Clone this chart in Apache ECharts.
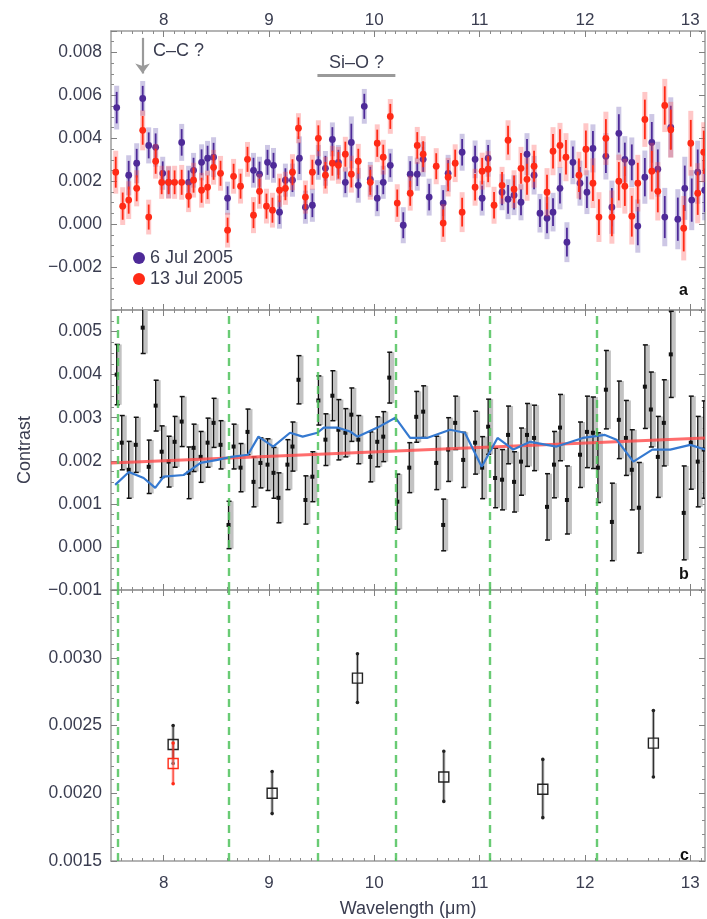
<!DOCTYPE html>
<html>
<head>
<meta charset="utf-8">
<script src="https://cdn.jsdelivr.net/npm/echarts@6.0.0/dist/echarts.min.js"></script>
<style>
  html, body { margin: 0; padding: 0; background: #fff; }
  #chart { width: 707px; height: 919px; }
</style>
</head>
<body>
<div id="chart"></div>
<script>
// ---- panel a: two observing dates ----
var wavA6 = [7.554, 7.668, 7.744, 7.801, 7.858, 7.924, 7.991, 8.047, 8.171, 8.237,
    8.284, 8.360, 8.417, 8.474, 8.607, 8.853, 8.910, 8.986, 9.043, 9.100,
    9.156, 9.223, 9.289, 9.346, 9.412, 9.469, 9.536, 9.602, 9.659, 9.725,
    9.782, 9.848, 9.905, 9.962, 10.028, 10.085, 10.152, 10.275, 10.341, 10.408,
    10.464, 10.521, 10.654, 10.701, 10.834, 10.957, 11.024, 11.081, 11.213, 11.270,
    11.327, 11.393, 11.450, 11.517, 11.573, 11.640, 11.697, 11.763, 11.829, 11.886,
    11.953, 12.019, 12.076, 12.199, 12.256, 12.322, 12.379, 12.445, 12.502, 12.569,
    12.635, 12.692, 12.758, 12.815, 12.882, 12.948, 13.014, 13.071, 13.137];
var conA6 = [0.00543, 0.00228, 0.00284, 0.00586, 0.00367, 0.00358, 0.00237, 0.00195, 0.00381, 0.00195,
    0.00251, 0.00288, 0.00307, 0.00312, 0.00121, 0.00251, 0.00233, 0.00288, 0.00274, 0.00056,
    0.00205, 0.00205, 0.00307, 0.00079, 0.00088, 0.00288, 0.00260, 0.00395, 0.00288, 0.00195,
    0.00381, 0.00181, 0.00549, 0.00209, 0.00121, 0.00195, 0.00274, -0.00005, 0.00233, 0.00233,
    0.00302, 0.00126, 0.00098, 0.00237, 0.00335, 0.00302, 0.00121, 0.00307, 0.00149, 0.00116,
    0.00135, 0.00102, 0.00326, 0.00228, 0.00051, 0.00028, 0.00056, 0.00167, -0.00084, 0.00288,
    0.00191, 0.00149, 0.00353, 0.00316, 0.00079, 0.00423, 0.00302, 0.00288, -0.00009, 0.00219,
    0.00381, 0.00256, 0.00033, 0.00451, 0.00023, 0.00167, 0.00112, 0.00242, 0.00158];
var errA6 = [0.00102, 0.00093, 0.00093, 0.00081, 0.00084, 0.00090, 0.00077, 0.00074, 0.00086, 0.00077,
    0.00081, 0.00084, 0.00081, 0.00093, 0.00077, 0.00081, 0.00081, 0.00081, 0.00081, 0.00077,
    0.00077, 0.00077, 0.00102, 0.00077, 0.00077, 0.00081, 0.00081, 0.00079, 0.00081, 0.00070,
    0.00121, 0.00081, 0.00081, 0.00081, 0.00084, 0.00077, 0.00077, 0.00084, 0.00084, 0.00077,
    0.00081, 0.00086, 0.00084, 0.00086, 0.00086, 0.00088, 0.00081, 0.00086, 0.00084, 0.00093,
    0.00093, 0.00084, 0.00098, 0.00090, 0.00090, 0.00098, 0.00090, 0.00098, 0.00093, 0.00102,
    0.00105, 0.00102, 0.00112, 0.00108, 0.00124, 0.00124, 0.00108, 0.00116, 0.00124, 0.00124,
    0.00132, 0.00128, 0.00136, 0.00140, 0.00140, 0.00147, 0.00140, 0.00147, 0.00140];

var wavA13 = [7.545, 7.611, 7.668, 7.744, 7.801, 7.858, 7.924, 7.981, 8.047, 8.104,
    8.171, 8.237, 8.284, 8.360, 8.417, 8.474, 8.540, 8.607, 8.664, 8.730,
    8.796, 8.853, 8.910, 8.976, 9.033, 9.100, 9.156, 9.223, 9.280, 9.346,
    9.412, 9.469, 9.536, 9.602, 9.659, 9.725, 9.782, 9.848, 9.962, 10.028,
    10.085, 10.152, 10.218, 10.341, 10.408, 10.464, 10.588, 10.654, 10.701, 10.768,
    10.834, 10.957, 11.024, 11.081, 11.137, 11.213, 11.270, 11.327, 11.393, 11.450,
    11.517, 11.640, 11.697, 11.763, 11.820, 11.943, 12.009, 12.076, 12.133, 12.199,
    12.256, 12.322, 12.379, 12.445, 12.502, 12.569, 12.635, 12.692, 12.758, 12.815,
    12.938, 13.005, 13.071, 13.128];
var conA13 = [0.00242, 0.00084, 0.00112, 0.00167, 0.00437, 0.00033, 0.00293, 0.00195, 0.00195, 0.00195,
    0.00195, 0.00130, 0.00205, 0.00158, 0.00172, 0.00265, 0.00237, -0.00028, 0.00223, 0.00177,
    0.00302, 0.00042, 0.00153, 0.00084, 0.00065, 0.00158, 0.00167, 0.00242, 0.00447, 0.00126,
    0.00242, 0.00400, 0.00228, 0.00284, 0.00274, 0.00326, 0.00233, 0.00293, 0.00195, 0.00377,
    0.00312, 0.00502, 0.00098, 0.00144, 0.00367, 0.00326, 0.00270, 0.00005, 0.00219, 0.00284,
    0.00056, 0.00172, 0.00247, 0.00256, 0.00088, 0.00181, 0.00391, 0.00163, 0.00260, 0.00209,
    0.00270, 0.00149, 0.00340, 0.00367, 0.00312, 0.00228, 0.00349, 0.00191, 0.00033, 0.00400,
    0.00033, 0.00200, 0.00177, 0.00037, 0.00191, 0.00488, 0.00247, 0.00153, 0.00553, 0.00440,
    -0.00019, 0.00377, 0.00144, 0.00335];
var errA13 = [0.00100, 0.00088, 0.00088, 0.00084, 0.00093, 0.00081, 0.00081, 0.00077, 0.00077, 0.00077,
    0.00081, 0.00074, 0.00081, 0.00081, 0.00077, 0.00081, 0.00081, 0.00081, 0.00081, 0.00081,
    0.00081, 0.00084, 0.00081, 0.00081, 0.00081, 0.00077, 0.00077, 0.00084, 0.00070, 0.00077,
    0.00081, 0.00084, 0.00086, 0.00081, 0.00086, 0.00081, 0.00086, 0.00081, 0.00081, 0.00088,
    0.00081, 0.00081, 0.00088, 0.00081, 0.00086, 0.00084, 0.00084, 0.00088, 0.00090, 0.00088,
    0.00093, 0.00086, 0.00086, 0.00084, 0.00086, 0.00086, 0.00093, 0.00088, 0.00100, 0.00100,
    0.00100, 0.00112, 0.00112, 0.00105, 0.00112, 0.00109, 0.00121, 0.00116, 0.00116, 0.00124,
    0.00124, 0.00124, 0.00128, 0.00132, 0.00132, 0.00128, 0.00132, 0.00136, 0.00124, 0.00130,
    0.00150, 0.00151, 0.00140, 0.00140];

// ---- panel b: combined spectrum ----
var wavB = [7.554, 7.602, 7.668, 7.735, 7.801, 7.858, 7.924, 7.981, 8.047, 8.104,
    8.171, 8.237, 8.284, 8.351, 8.417, 8.474, 8.540, 8.616, 8.664, 8.730,
    8.796, 8.853, 8.919, 8.986, 9.043, 9.090, 9.175, 9.223, 9.280, 9.346,
    9.412, 9.469, 9.536, 9.602, 9.659, 9.725, 9.782, 9.848, 9.962, 10.028,
    10.085, 10.142, 10.218, 10.332, 10.398, 10.464, 10.588, 10.654, 10.701, 10.768,
    10.844, 10.957, 11.024, 11.081, 11.147, 11.213, 11.270, 11.327, 11.393, 11.450,
    11.517, 11.640, 11.706, 11.763, 11.829, 11.953, 12.019, 12.076, 12.123, 12.199,
    12.256, 12.322, 12.389, 12.445, 12.512, 12.569, 12.626, 12.692, 12.749, 12.815,
    12.938, 13.005, 13.071, 13.128];
var conB = [0.00400, 0.00242, 0.00179, 0.00237, 0.00509, 0.00186, 0.00328, 0.00221, 0.00198, 0.00244,
    0.00291, 0.00172, 0.00230, 0.00209, 0.00242, 0.00288, 0.00237, 0.00051, 0.00233, 0.00184,
    0.00267, 0.00151, 0.00195, 0.00191, 0.00172, 0.00114, 0.00191, 0.00233, 0.00388, 0.00109,
    0.00163, 0.00340, 0.00249, 0.00351, 0.00272, 0.00265, 0.00307, 0.00249, 0.00209, 0.00244,
    0.00256, 0.00393, 0.00105, 0.00184, 0.00302, 0.00314, 0.00195, 0.00051, 0.00226, 0.00288,
    0.00202, 0.00242, 0.00184, 0.00279, 0.00160, 0.00156, 0.00260, 0.00151, 0.00198, 0.00260,
    0.00253, 0.00093, 0.00191, 0.00277, 0.00109, 0.00214, 0.00267, 0.00265, 0.00184, 0.00365,
    0.00058, 0.00295, 0.00253, 0.00179, 0.00091, 0.00372, 0.00319, 0.00209, 0.00288, 0.00447,
    0.00079, 0.00242, 0.00198, 0.00226];
var errB = [0.00070, 0.00063, 0.00066, 0.00064, 0.00060, 0.00062, 0.00059, 0.00060, 0.00059, 0.00059,
    0.00058, 0.00060, 0.00055, 0.00059, 0.00057, 0.00057, 0.00056, 0.00055, 0.00052, 0.00056,
    0.00053, 0.00058, 0.00058, 0.00060, 0.00059, 0.00058, 0.00058, 0.00057, 0.00056, 0.00056,
    0.00058, 0.00057, 0.00060, 0.00058, 0.00070, 0.00056, 0.00062, 0.00056, 0.00058, 0.00058,
    0.00058, 0.00059, 0.00064, 0.00058, 0.00059, 0.00060, 0.00062, 0.00060, 0.00074, 0.00062,
    0.00064, 0.00073, 0.00072, 0.00064, 0.00069, 0.00070, 0.00067, 0.00070, 0.00078, 0.00073,
    0.00076, 0.00077, 0.00077, 0.00077, 0.00079, 0.00076, 0.00083, 0.00083, 0.00081, 0.00091,
    0.00090, 0.00090, 0.00087, 0.00093, 0.00105, 0.00097, 0.00087, 0.00094, 0.00100, 0.00100,
    0.00109, 0.00108, 0.00105, 0.00113];

// linear fit (red) and smoothed model (blue)
var fitX = [7.5, 13.14];
var fitY = [0.00195, 0.00253];
var smoothX = [7.54, 7.67, 7.81, 7.92, 8.0, 8.19, 8.35, 8.51, 8.64, 8.8, 8.9, 9.04, 9.2, 9.32,
    9.46, 9.52, 9.65, 9.77, 9.84, 10.03, 10.2, 10.34, 10.5, 10.72, 10.86, 11.02, 11.17, 11.32,
    11.48, 11.73, 11.98, 12.19, 12.3, 12.46, 12.64, 12.81, 13.0, 13.14];
var smoothY = [0.00144, 0.00174, 0.00160, 0.00137, 0.00163, 0.00167, 0.00195, 0.00202, 0.00209,
    0.00214, 0.00256, 0.00233, 0.00265, 0.00256, 0.00265, 0.00277, 0.00277, 0.00268, 0.00256,
    0.00277, 0.00300, 0.00253, 0.00253, 0.00272, 0.00265, 0.00186, 0.00253, 0.00226, 0.00244,
    0.00233, 0.00253, 0.00260, 0.00249, 0.00198, 0.00226, 0.00226, 0.00237, 0.00226];

// ---- panel c: band averages ----
var wavC = [8.09, 9.03, 9.84, 10.66, 11.60, 12.65];
var conC = [0.00236, 0.00200, 0.00285, 0.00212, 0.00203, 0.00237];
var loC = [0.00222, 0.00185, 0.00267, 0.00194, 0.00182, 0.00212];
var hiC = [0.00250, 0.00216, 0.00303, 0.00231, 0.00225, 0.00261];
var wavCred = [8.09];
var conCred = [0.00222];
var loCred = [0.00207];
var hiCred = [0.00237];

var bandEdges = [7.56, 8.62, 9.46, 10.2, 11.1, 12.11];
var xMajor = [8, 9, 10, 11, 12, 13];

var FONT = '"Liberation Sans", Arial, sans-serif';
var TXT = '#3a3d50';
var PURPLE = '#4e2a98', PURPLE_PALE = 'rgba(100,80,175,0.32)';
var RED = '#ff2a16', RED_PALE = 'rgba(255,80,80,0.32)';

function zip3(a, b, c, d) {
    return a.map(function (v, i) { return d ? [v, b[i], c[i], d[i]] : [v, b[i], c[i]]; });
}

function fmt(dec) {
    return function (v) {
        var s = Math.abs(v).toFixed(dec);
        return (v < -1e-12 ? '\u2212' : '') + s;
    };
}

function xAx(grid, pos, labels, name) {
    return {
        type: 'value', gridIndex: grid, position: pos, min: 7.5, max: 13.14, interval: 0.5,
        name: name || '', nameLocation: 'middle', nameGap: 39,
        nameTextStyle: {fontFamily: FONT, fontSize: 18, color: TXT},
        axisLine: {show: true, onZero: false, lineStyle: {color: '#9c9c9c', width: 1.5}},
        axisTick: {show: true, inside: true, length: 6, customValues: xMajor, lineStyle: {color: '#808080'}},
        minorTick: {show: true, splitNumber: 5, length: 3, lineStyle: {color: '#8a8a8a'}},
        axisLabel: {show: labels, customValues: xMajor, margin: pos === 'top' ? 2 : 14,
            fontFamily: FONT, fontSize: 17, color: TXT},
        splitLine: {show: false}
    };
}

function yAx(grid, pos, min, max, interval, split, dec, labels, showMin, name) {
    return {
        type: 'value', gridIndex: grid, position: pos, min: min, max: max, interval: interval,
        name: name || '', nameLocation: 'middle', nameGap: 77, nameRotate: 90,
        nameTextStyle: {fontFamily: FONT, fontSize: 18, color: TXT},
        axisLine: {show: true, onZero: false, lineStyle: {color: '#9c9c9c', width: 1.5}},
        axisTick: {show: true, inside: true, length: 6, lineStyle: {color: '#808080'}},
        minorTick: {show: true, splitNumber: split, length: 3, lineStyle: {color: '#8a8a8a'}},
        axisLabel: {show: labels, margin: 9, showMinLabel: showMin, showMaxLabel: false,
            formatter: fmt(dec), fontFamily: FONT, fontSize: 17.5, color: TXT},
        splitLine: {show: false}
    };
}

// panel a: pale total error + darker core + dot
function dateBars(solid, pale) {
    return function (params, api) {
        var x = api.value(0), y = api.value(1), e = api.value(2);
        var c = api.coord([x, y]);
        var hi = api.coord([x, y + e]), lo = api.coord([x, y - e]);
        var hi2 = api.coord([x, y + e * 0.72]), lo2 = api.coord([x, y - e * 0.72]);
        return {
            type: 'group', children: [
                {type: 'rect', shape: {x: c[0] - 2.5, y: hi[1], width: 5, height: lo[1] - hi[1]}, style: {fill: pale}},
                {type: 'line', shape: {x1: c[0], y1: hi2[1], x2: c[0], y2: lo2[1]}, style: {stroke: solid, lineWidth: 1.8}},
                {type: 'circle', shape: {cx: c[0], cy: c[1], r: 3.4}, style: {fill: solid}}
            ]
        };
    };
}

// panel b: grey band, black bar with caps, small dot
function combBars(params, api) {
    var x = api.value(0), y = api.value(1), e = api.value(2);
    var c = api.coord([x, y]);
    var hi = api.coord([x, y + e]), lo = api.coord([x, y - e]);
    return {
        type: 'group', children: [
            {type: 'rect', shape: {x: c[0], y: hi[1], width: 5, height: lo[1] - hi[1]}, style: {fill: '#c2c2c2'}},
            {type: 'line', shape: {x1: c[0], y1: hi[1], x2: c[0], y2: lo[1]}, style: {stroke: '#111', lineWidth: 1.3}},
            {type: 'line', shape: {x1: c[0] - 2, y1: hi[1], x2: c[0] + 3, y2: hi[1]}, style: {stroke: '#111', lineWidth: 1.5}},
            {type: 'line', shape: {x1: c[0] - 2, y1: lo[1], x2: c[0] + 3, y2: lo[1]}, style: {stroke: '#111', lineWidth: 1.5}},
            {type: 'rect', shape: {x: c[0] - 2, y: c[1] - 2, width: 4, height: 4}, style: {fill: '#111'}}
        ]
    };
}

// panel c: hollow square with error bar
function bandBoxes(col, band) {
    return function (params, api) {
        var x = api.value(0), y = api.value(1);
        var c = api.coord([x, y]);
        var lo = api.coord([x, api.value(2)]), hi = api.coord([x, api.value(3)]);
        return {
            type: 'group', children: [
                {type: 'rect', shape: {x: c[0] - 1.5, y: hi[1], width: 3, height: lo[1] - hi[1]}, style: {fill: band}},
                {type: 'line', shape: {x1: c[0], y1: hi[1], x2: c[0], y2: lo[1]}, style: {stroke: col, lineWidth: 1}},
                {type: 'circle', shape: {cx: c[0], cy: hi[1], r: 1.8}, style: {fill: col}},
                {type: 'circle', shape: {cx: c[0], cy: lo[1], r: 1.8}, style: {fill: col}},
                {type: 'rect', shape: {x: c[0] - 5, y: c[1] - 5, width: 10, height: 10},
                    style: {fill: 'rgba(255,255,255,0.2)', stroke: col, lineWidth: 1.4}}
            ]
        };
    };
}

var greenLines = {
    silent: true, symbol: 'none', label: {show: false},
    lineStyle: {type: [8, 6], color: '#4fc25c', width: 2.4, opacity: 0.85},
    data: bandEdges.map(function (v) { return {xAxis: v}; })
};

var option = {
    animation: false,
    backgroundColor: '#fff',
    textStyle: {fontFamily: FONT},
    grid: [
        {left: 111, right: 2, top: 31, height: 279},
        {left: 111, right: 2, top: 310, height: 280},
        {left: 111, right: 2, top: 590, height: 279}
    ],
    xAxis: [
        xAx(0, 'bottom', false), xAx(0, 'top', true),
        xAx(1, 'bottom', false), xAx(1, 'top', false),
        xAx(2, 'bottom', true, 'Wavelength (\u03bcm)'), xAx(2, 'top', false)
    ],
    yAxis: [
        yAx(0, 'left', -0.004, 0.009, 0.002, 4, 3, true, false),
        yAx(0, 'right', -0.004, 0.009, 0.002, 4, 3, false, false),
        yAx(1, 'left', -0.001, 0.0055, 0.001, 4, 3, true, true, 'Contrast'),
        yAx(1, 'right', -0.001, 0.0055, 0.001, 4, 3, false, false),
        yAx(2, 'left', 0.0015, 0.0035, 0.0005, 5, 4, true, true),
        yAx(2, 'right', 0.0015, 0.0035, 0.0005, 5, 4, false, false)
    ],
    legend: {
        orient: 'vertical', left: 133, top: 249, itemGap: 3, itemWidth: 12, itemHeight: 12,
        icon: 'circle', padding: 0,
        textStyle: {fontFamily: FONT, fontSize: 18, color: TXT},
        data: ['6 Jul 2005', '13 Jul 2005']
    },
    series: [
        {
            type: 'custom', name: '6 Jul 2005', xAxisIndex: 0, yAxisIndex: 0, clip: true,
            itemStyle: {color: PURPLE}, encode: {x: 0, y: 1},
            renderItem: dateBars(PURPLE, PURPLE_PALE), data: zip3(wavA6, conA6, errA6)
        },
        {
            type: 'custom', name: '13 Jul 2005', xAxisIndex: 0, yAxisIndex: 0, clip: true,
            itemStyle: {color: RED}, encode: {x: 0, y: 1},
            renderItem: dateBars(RED, RED_PALE), data: zip3(wavA13, conA13, errA13)
        },
        {
            type: 'line', xAxisIndex: 0, yAxisIndex: 0, data: [], silent: true,
            markLine: {
                silent: true, animation: false,
                data: [
                    [{coord: [7.80, 0.00868], symbol: 'none'},
                     {coord: [7.80, 0.00702], symbol: 'arrow', symbolSize: [11, 10],
                      lineStyle: {color: '#9a9a9a', width: 2.2}, label: {show: false}}],
                    [{coord: [9.46, 0.00693], symbol: 'none'},
                     {coord: [10.2, 0.00693], symbol: 'none',
                      lineStyle: {color: '#9a9a9a', width: 3, type: 'solid'},
                      label: {show: true, position: 'middle', formatter: 'Si\u2013O ?', distance: 3,
                          fontFamily: FONT, fontSize: 18, color: TXT}}]
                ],
                lineStyle: {color: '#9a9a9a', type: 'solid'}
            }
        },
        {
            type: 'line', xAxisIndex: 2, yAxisIndex: 2, data: [], silent: true, z: 1,
            markLine: greenLines
        },
        {
            type: 'custom', xAxisIndex: 2, yAxisIndex: 2, clip: true, z: 2,
            encode: {x: 0, y: 1}, renderItem: combBars, data: zip3(wavB, conB, errB)
        },
        {
            type: 'line', xAxisIndex: 2, yAxisIndex: 2, showSymbol: false, silent: true, z: 3,
            lineStyle: {color: '#ff4848', width: 3, opacity: 0.8},
            data: fitX.map(function (v, i) { return [v, fitY[i]]; })
        },
        {
            type: 'line', xAxisIndex: 2, yAxisIndex: 2, showSymbol: false, silent: true, z: 4,
            lineStyle: {color: '#3579d0', width: 2.2},
            data: smoothX.map(function (v, i) { return [v, smoothY[i]]; })
        },
        {
            type: 'line', xAxisIndex: 4, yAxisIndex: 4, data: [], silent: true, z: 1,
            markLine: greenLines
        },
        {
            type: 'custom', xAxisIndex: 4, yAxisIndex: 4, clip: true, z: 2,
            encode: {x: 0, y: 1}, renderItem: bandBoxes('#222', '#b5b5b5'),
            data: zip3(wavC, conC, loC, hiC)
        },
        {
            type: 'custom', xAxisIndex: 4, yAxisIndex: 4, clip: true, z: 3,
            encode: {x: 0, y: 1}, renderItem: bandBoxes('#ff2a16', 'rgba(255,80,80,0.4)'),
            data: zip3(wavCred, conCred, loCred, hiCred)
        }
    ],
    graphic: [
        {type: 'text', left: 153, top: 42, style: {text: 'C\u2013C ?', font: '18px ' + FONT, fill: TXT}},
        {type: 'text', left: 679, top: 283, style: {text: 'a', font: 'bold 16px ' + FONT, fill: '#111'}},
        {type: 'text', left: 679, top: 567, style: {text: 'b', font: 'bold 16px ' + FONT, fill: '#111'}},
        {type: 'text', left: 680, top: 848, style: {text: 'c', font: 'bold 16px ' + FONT, fill: '#111'}}
    ]
};

var chart = echarts.init(document.getElementById('chart'));
chart.setOption(option, true);
</script>
</body>
</html>
